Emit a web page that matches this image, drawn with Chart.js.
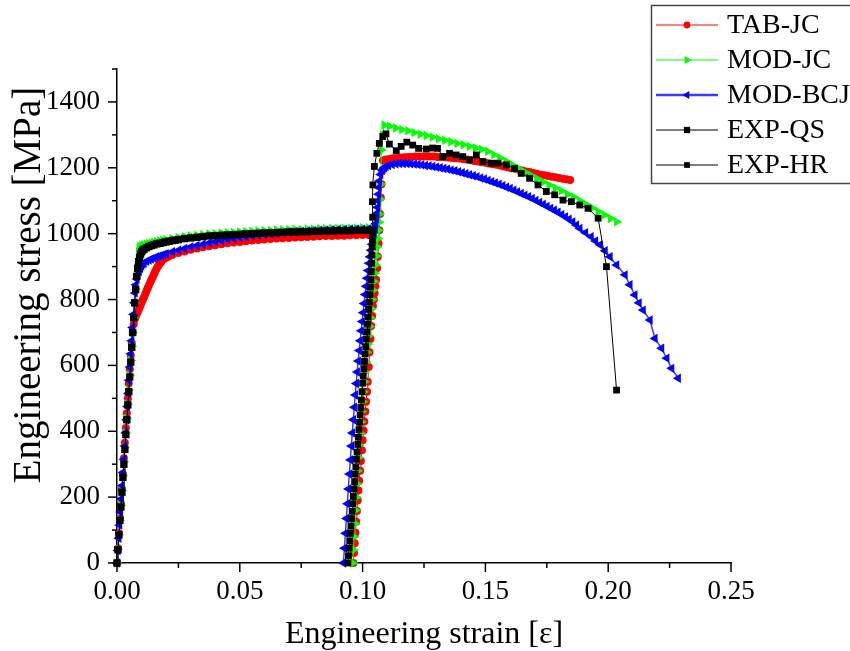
<!DOCTYPE html>
<html>
<head>
<meta charset="utf-8">
<script src="https://cdn.jsdelivr.net/npm/chart.js@4.4.1/dist/chart.umd.min.js"></script>
<style>
html,body{margin:0;padding:0;background:#fff;}
canvas{display:block;}
</style>
</head>
<body>
<canvas id="c" width="850" height="651"></canvas>
<script>
// ---------- DATA (strain [-], stress [MPa]); null separates the QS and HR curves ----------
const seriesLabels = ['TAB-JC', 'MOD-JC', 'MOD-BCJ', 'EXP-QS', 'EXP-HR'];

const tabJcStrain = [0,0.0004,0.0008,0.0012,0.0016,0.002,0.0024,0.0028,0.0032,0.0036,0.004,0.0044,0.0048,0.0052,0.0056,0.006,0.0064,0.0068,0.0072,0.0076,0.008,0.0085,0.009,0.0095,0.010,0.0105,0.011,0.0115,0.012,0.0125,0.013,0.0135,0.014,0.0145,0.015,0.0155,0.016,0.0165,0.017,0.0175,0.018,0.019,0.020,0.021,0.0225,0.025,0.0275,0.03,0.0325,0.035,0.0375,0.04,0.0425,0.045,0.0475,0.05,0.0525,0.055,0.0575,0.06,0.0625,0.065,0.0675,0.07,0.0725,0.075,0.0775,0.08,0.0825,0.085,0.0875,0.09,0.0925,0.095,0.0975,0.1,0.1025,0.104,
  null,
  0.0962,0.0965,0.0968,0.0971,0.0974,0.0977,0.098,0.0983,0.0986,0.099,0.0993,0.0997,0.1,0.1004,0.1007,0.1011,0.1014,0.1018,0.1021,0.1025,0.1028,0.1032,0.1035,0.1039,0.1042,0.1046,0.1049,0.1052,0.1055,0.1059,0.1062,0.1065,0.1068,0.1071,0.1074,0.1077,0.1079,0.1083,0.1095,0.111,0.1125,0.114,0.1155,0.117,0.1185,0.12,0.1215,0.123,0.1245,0.126,0.1275,0.129,0.1305,0.132,0.1335,0.135,0.1365,0.138,0.1395,0.141,0.1425,0.144,0.1455,0.147,0.1485,0.15,0.1515,0.153,0.1545,0.156,0.1575,0.159,0.1605,0.162,0.1635,0.165,0.1665,0.168,0.1695,0.171,0.1725,0.174,0.1755,0.177,0.1785,0.18,0.1815,0.183,0.1845];
const tabJcStress = [0,45,90,135,180,225,270,318,365,410,455,500,545,588,630,668,700,725,740,748,755,763,772,781,790,799,808,817,826,835,843,852,860,868,876,884,892,899,905,910,915,922,927,931,935,941,946,951,955,959,962,965,968,971,973,975,977,979,981,982,984,985,986,987,988,989,990,991,992,993,993,994,994,995,995,996,996,996,
  null,
  0,30,60,92,125,158,190,220,250,280,310,342,373,402,430,460,490,520,550,595,640,680,720,750,780,800,820,840,860,895,930,970,1010,1060,1110,1150,1190,1222,1225,1227,1229,1230,1231,1232,1233,1233,1234,1234,1234,1234,1234,1234,1233,1233,1232,1231,1230,1229,1228,1226,1225,1223,1221,1219,1217,1215,1213,1211,1209,1207,1204,1202,1199,1197,1194,1192,1189,1187,1184,1182,1179,1177,1175,1173,1171,1169,1167,1165,1163];

const modJcStrain = [0,0.0004,0.0008,0.0012,0.0016,0.002,0.0024,0.0028,0.0032,0.0036,0.004,0.0044,0.0048,0.0052,0.0056,0.006,0.0064,0.0068,0.0072,0.0076,0.008,0.0084,0.0088,0.0091,0.0094,0.0102,0.011,0.012,0.013,0.014,0.015,0.0162,0.0175,0.0187,0.02,0.0225,0.025,0.0275,0.03,0.0325,0.035,0.0375,0.04,0.0425,0.045,0.0475,0.05,0.0525,0.055,0.0575,0.06,0.0625,0.065,0.0675,0.07,0.0725,0.075,0.0775,0.08,0.0825,0.085,0.0875,0.09,0.0925,0.095,0.0975,0.1,0.1025,0.105,
  null,
  0.096,0.0963,0.0966,0.0969,0.0972,0.0975,0.0978,0.0981,0.0984,0.0987,0.099,0.0994,0.0997,0.1001,0.1004,0.1008,0.1011,0.1015,0.1018,0.1022,0.1025,0.1029,0.1032,0.1036,0.1039,0.1043,0.1046,0.105,0.1053,0.1057,0.106,0.1063,0.1066,0.1068,0.107,0.1072,0.1074,0.1077,0.1082,0.1088,0.111,0.1135,0.116,0.1185,0.121,0.1235,0.126,0.1285,0.131,0.1335,0.136,0.1385,0.141,0.1435,0.146,0.1485,0.151,0.1535,0.156,0.1585,0.161,0.1635,0.166,0.1685,0.171,0.1735,0.176,0.1785,0.181,0.1835,0.186,0.1885,0.191,0.1935,0.196,0.1985,0.201,0.2035];
const modJcStress = [0,42,85,130,175,220,265,308,350,395,440,482,525,570,615,658,700,745,790,832,875,912,945,955,962,964,966,968,970,972,974,976,978,980,982,985,988,991,993,995,997,999,1000,1002,1003,1004,1005,1006,1007,1008,1009,1010,1011,1011,1012,1013,1013,1014,1014,1015,1015,1016,1016,1017,1017,1017,1018,1018,1018,
  null,
  0,40,80,120,160,200,240,280,320,358,395,428,460,490,520,550,580,610,640,665,690,718,745,772,800,828,855,880,905,932,960,985,1010,1035,1060,1105,1150,1254,1300,1330,1326,1321,1316,1312,1307,1302,1298,1293,1288,1284,1279,1274,1270,1265,1260,1256,1250,1240,1230,1220,1209,1198,1187,1177,1167,1157,1148,1139,1130,1120,1111,1100,1089,1078,1067,1057,1046,1036];

const modBcjStrain = [0,0.00035,0.0007,0.00105,0.0014,0.00175,0.0021,0.00245,0.0028,0.00315,0.0035,0.00385,0.0042,0.00455,0.0049,0.00525,0.0056,0.00595,0.0063,0.00665,0.007,0.00735,0.0077,0.0081,0.0085,0.009,0.0095,0.01,0.0105,0.011,0.012,0.013,0.014,0.015,0.016,0.017,0.018,0.019,0.02,0.0225,0.025,0.0275,0.03,0.0325,0.035,0.0375,0.04,0.0425,0.045,0.0475,0.05,0.0525,0.055,0.0575,0.06,0.0625,0.065,0.0675,0.07,0.0725,0.075,0.0775,0.08,0.0825,0.085,0.0875,0.09,0.0925,0.095,0.0975,0.1,0.1025,0.105,
  null,
  0.0922,0.0926,0.093,0.0934,0.0938,0.0942,0.0946,0.095,0.0954,0.0958,0.0962,0.0966,0.097,0.0974,0.0978,0.0982,0.0986,0.099,0.0994,0.0998,0.1002,0.1006,0.101,0.1014,0.1018,0.1022,0.1026,0.103,0.1034,0.1038,0.1042,0.1046,0.105,0.1053,0.1056,0.1058,0.106,0.1062,0.1064,0.1066,0.1068,0.1073,0.108,0.1088,0.1095,0.1105,0.112,0.1135,0.115,0.1165,0.118,0.1195,0.121,0.1225,0.124,0.1255,0.127,0.1285,0.13,0.1315,0.133,0.1345,0.136,0.1375,0.139,0.1405,0.142,0.1435,0.145,0.1465,0.148,0.1495,0.151,0.1525,0.154,0.1555,0.157,0.1585,0.16,0.1615,0.163,0.1645,0.166,0.1675,0.169,0.1705,0.172,0.1735,0.175,0.1765,0.178,0.1795,0.181,0.1825,0.184,0.1855,0.187,0.1884,0.1907,0.193,0.1948,0.1966,0.1987,0.2007,0.2034,0.2068,0.2088,0.2108,0.2125,0.2142,0.217,0.219,0.2217,0.2238,0.2258,0.2285];
const modBcjStress = [0,38,75,115,155,195,235,275,315,355,395,435,475,515,555,595,635,675,715,755,790,820,845,862,875,886,895,902,908,911,916,920,923,926,929,932,934,937,939,945,950,955,960,964,968,972,976,979,983,986,989,991,994,996,998,1000,1002,1003,1005,1006,1007,1008,1009,1010,1011,1012,1013,1013,1014,1014,1014,1015,1015,
  null,
  0,45,90,135,180,225,270,313,355,395,435,473,510,545,580,613,645,675,705,733,760,788,815,840,865,888,910,930,950,968,985,1000,1015,1030,1045,1062,1080,1100,1120,1140,1160,1180,1193,1200,1204,1207,1210,1212,1213,1213,1213,1212,1211,1210,1209,1207,1206,1204,1202,1200,1198,1196,1193,1191,1188,1185,1182,1179,1176,1173,1169,1166,1162,1158,1154,1150,1146,1141,1137,1132,1127,1122,1117,1112,1107,1101,1095,1089,1083,1077,1071,1065,1058,1051,1044,1036,1026,1016,1003,991,978,966,948,930,905,875,845,814,790,768,738,682,652,622,591,561];

const expQsStrain = [0,0.0004,0.0008,0.0012,0.0016,0.002,0.0024,0.0028,0.0032,0.0036,0.004,0.0044,0.0048,0.0052,0.0056,0.006,0.0064,0.0068,0.0072,0.0076,0.008,0.0084,0.0088,0.0092,0.0096,0.01,0.0105,0.011,0.012,0.013,0.014,0.015,0.0162,0.0175,0.0187,0.02,0.0212,0.0225,0.0237,0.025,0.0275,0.03,0.0325,0.035,0.0375,0.04,0.0425,0.045,0.0475,0.05,0.0525,0.055,0.0575,0.06,0.0625,0.065,0.0675,0.07,0.0725,0.075,0.0775,0.08,0.0825,0.085,0.0875,0.09,0.0925,0.095,0.0975,0.1,0.1025,0.104];
const expQsStress = [0,40,85,130,170,215,260,300,345,390,435,480,520,565,610,655,700,745,790,830,870,895,915,928,938,945,950,953,957,961,964,966,969,971,973,975,977,979,980,982,985,987,989,991,993,994,995,996,997,998,999,1000,1001,1002,1003,1003,1004,1005,1005,1006,1006,1007,1007,1008,1008,1009,1009,1009,1010,1010,1010,1010];

const expHrStrain = [0.094,0.09425,0.0945,0.09475,0.095,0.09525,0.0955,0.09575,0.096,0.09625,0.0965,0.09675,0.097,0.09725,0.0975,0.09775,0.098,0.09825,0.0985,0.09875,0.099,0.09925,0.0995,0.09975,0.1,0.10025,0.1005,0.10075,0.101,0.10125,0.1015,0.10175,0.102,0.10225,0.1025,0.10275,0.103,0.1032,0.1034,0.10355,0.1037,0.1038,0.1039,0.104,0.1041,0.1041,0.104,0.1042,0.1048,0.1058,0.1068,0.1082,0.1095,0.1109,0.1137,0.1157,0.118,0.1204,0.1228,0.1259,0.1285,0.1305,0.1327,0.1354,0.1381,0.1408,0.1436,0.1463,0.149,0.1524,0.1551,0.1585,0.1619,0.1646,0.168,0.1714,0.1748,0.1782,0.1816,0.185,0.1884,0.1918,0.1959,0.1993,0.2034];
const expHrStress = [0,22,45,67,90,112,135,157,180,202,225,247,270,292,315,337,360,382,405,427,450,472,495,520,546,568,590,612,635,657,680,702,725,747,770,792,815,838,860,885,910,935,960,980,1001,1050,1097,1148,1204,1244,1274,1295,1303,1272,1252,1265,1278,1269,1259,1257,1260,1259,1234,1244,1239,1234,1224,1239,1219,1214,1214,1209,1198,1183,1168,1148,1128,1118,1102,1097,1087,1077,1047,900,525];

// ---------- axis tick settings ----------
const xMin = 0, xMax = 0.25, xStep = 0.025;
const yMin = 0, yMax = 1500, yStep = 100;

function toPoints(xs, ys) {
  const out = [];
  for (let i = 0; i < xs.length; i++) {
    if (xs[i] === null || ys[i] === null) {
      out.push({x: out.length ? out[out.length - 1].x : 0, y: null});
    } else {
      out.push({x: xs[i], y: ys[i]});
    }
  }
  return out;
}

const FONT = "'Liberation Serif', 'Times New Roman', serif";

const datasets = [
  {label: seriesLabels[0], data: toPoints(tabJcStrain, tabJcStress), borderColor: '#ff0000', backgroundColor: '#ff0000',
   borderWidth: 1, pointStyle: 'circle', pointRadius: 4, pointRotation: 0, order: 5},
  {label: seriesLabels[1], data: toPoints(modJcStrain, modJcStress), borderColor: '#00ff00', backgroundColor: '#00ff00',
   borderWidth: 1, pointStyle: 'triangle', pointRadius: 5.4, pointRotation: 90, order: 4},
  {label: seriesLabels[2], data: toPoints(modBcjStrain, modBcjStress), borderColor: '#3b3bff', backgroundColor: '#0000ff',
   borderWidth: 1.5, pointStyle: 'triangle', pointRadius: 5.4, pointRotation: -90, order: 3},
  {label: seriesLabels[3], data: toPoints(expQsStrain, expQsStress), borderColor: '#000000', backgroundColor: '#000000',
   borderWidth: 1, pointStyle: 'rect', pointRadius: 5.2, pointRotation: 0, order: 2},
  {label: seriesLabels[4], data: toPoints(expHrStrain, expHrStress), borderColor: '#000000', backgroundColor: '#000000',
   borderWidth: 1, pointStyle: 'rect', pointRadius: 4.8, pointRotation: 0, order: 1}
];
datasets.forEach(d => {
  d.pointBackgroundColor = d.backgroundColor;
  d.pointBorderColor = d.backgroundColor;
  d.pointBorderWidth = 0;
  d.fill = false;
  d.tension = 0;
  d.spanGaps = false;
  d.clip = false;
});

// tick marks (major with labels, minor without) drawn at the scale's own tick positions
const tickMarks = {
  id: 'tickMarks',
  afterDraw(chart) {
    const ctx = chart.ctx, xs = chart.scales.x, ys = chart.scales.y;
    ctx.save();
    ctx.strokeStyle = '#000';
    ctx.lineWidth = 1.5;
    xs.ticks.forEach(t => {
      const px = xs.getPixelForValue(t.value);
      const len = t.label ? 9 : 5;
      ctx.beginPath(); ctx.moveTo(px, xs.top); ctx.lineTo(px, xs.top + len); ctx.stroke();
    });
    ys.ticks.forEach(t => {
      const py = ys.getPixelForValue(t.value);
      const len = t.label ? 9 : 5;
      ctx.beginPath(); ctx.moveTo(ys.right, py); ctx.lineTo(ys.right - len, py); ctx.stroke();
    });
    ctx.restore();
  }
};

// axis titles
const axisTitles = {
  id: 'axisTitles',
  afterDraw(chart) {
    const ctx = chart.ctx, xs = chart.scales.x;
    ctx.save();
    ctx.fillStyle = '#000';
    ctx.textAlign = 'center';
    ctx.textBaseline = 'alphabetic';
    ctx.font = '32px ' + FONT;
    ctx.fillText('Engineering strain [ε]', (xs.left + xs.right) / 2, 643);
    ctx.translate(40, 285);
    ctx.rotate(-Math.PI / 2);
    ctx.font = '39px ' + FONT;
    ctx.fillText('Engineering stress [MPa]', 0, 0);
    ctx.restore();
  }
};

// boxed legend with line + marker samples
const boxLegend = {
  id: 'boxLegend',
  afterDraw(chart) {
    const ctx = chart.ctx;
    ctx.save();
    ctx.fillStyle = '#fff';
    ctx.fillRect(651, 5, 205, 178);
    ctx.strokeStyle = '#444';
    ctx.lineWidth = 1.5;
    ctx.strokeRect(651.5, 5.5, 205, 178);
    chart.data.datasets.forEach((d, i) => {
      const y = 25 + i * 35;
      ctx.strokeStyle = d.borderColor;
      ctx.lineWidth = i === 2 ? 2.5 : 1.2;
      ctx.beginPath(); ctx.moveTo(656, y); ctx.lineTo(718, y); ctx.stroke();
      ctx.fillStyle = d.backgroundColor;
      ctx.strokeStyle = d.backgroundColor;
      ctx.lineWidth = 0.01;
      Chart.helpers.drawPoint(ctx, {pointStyle: d.pointStyle, rotation: d.pointRotation, radius: d.pointRadius * 0.85, borderWidth: 0}, 687, y);
      ctx.fillStyle = '#000';
      ctx.font = '28px ' + FONT;
      ctx.textAlign = 'left';
      ctx.textBaseline = 'middle';
      ctx.fillText(d.label, 727, y + 1);
    });
    ctx.restore();
  }
};

new Chart(document.getElementById('c'), {
  type: 'line',
  data: {datasets},
  options: {
    responsive: false,
    animation: false,
    devicePixelRatio: 1,
    layout: {padding: {left: 0, right: 119, top: 69, bottom: 0}},
    plugins: {legend: {display: false}, tooltip: {enabled: false}, title: {display: false}},
    elements: {line: {borderJoinStyle: 'round'}},
    scales: {
      x: {
        type: 'linear', min: xMin, max: xMax,
        afterFit(s) { s.height = 88; },
        grid: {display: true, drawOnChartArea: false, drawTicks: false},
        border: {display: true, color: '#000', width: 1.5},
        ticks: {
          stepSize: xStep, autoSkip: false, maxRotation: 0, padding: 13, color: '#000',
          font: {family: FONT, size: 27},
          callback: v => (Math.round(v * 1000) % 50 === 0 ? v.toFixed(2) : '')
        },
        title: {display: false}
      },
      y: {
        type: 'linear', min: yMin, max: yMax,
        afterFit(s) { s.width = 117; },
        grid: {display: true, drawOnChartArea: false, drawTicks: false},
        border: {display: true, color: '#000', width: 1.5},
        ticks: {
          stepSize: yStep, autoSkip: false, padding: 17, color: '#000',
          font: {family: FONT, size: 27},
          callback: v => (Math.round(v) % 200 === 0 ? String(v) : '')
        },
        title: {display: false}
      }
    }
  },
  plugins: [tickMarks, axisTitles, boxLegend]
});
</script>
</body>
</html>
